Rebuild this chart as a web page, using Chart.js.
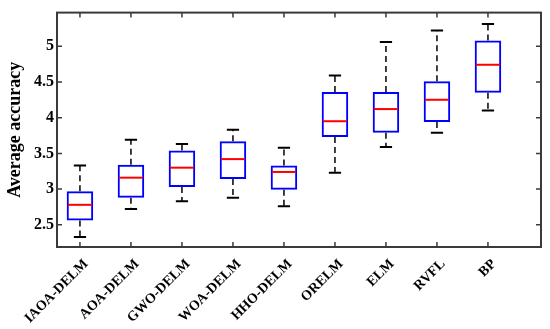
<!DOCTYPE html>
<html>
<head>
<meta charset="utf-8">
<script src="https://cdn.jsdelivr.net/npm/chart.js@4.4.1/dist/chart.umd.min.js"></script>
<style>
  body { margin: 0; background: #fff; }
  #wrap { width: 550px; height: 329px; }
</style>
</head>
<body>
<div id="wrap"><canvas id="chart" width="550" height="329"></canvas></div>
<script>
// data
const categories = ['IAOA-DELM', 'AOA-DELM', 'GWO-DELM', 'WOA-DELM', 'HHO-DELM', 'ORELM', 'ELM', 'RVFL', 'BP'];
const whiskerLow  = [2.33, 2.72, 2.83, 2.88, 2.76, 3.23, 3.59, 3.79, 4.10];
const boxLow      = [2.56, 2.88, 3.03, 3.14, 2.99, 3.73, 3.79, 3.94, 4.35];
const medians     = [2.78, 3.16, 3.30, 3.42, 3.24, 3.95, 4.12, 4.25, 4.74];
const boxHigh     = [2.97, 3.34, 3.54, 3.67, 3.33, 4.36, 4.36, 4.51, 5.08];
const whiskerHigh = [3.33, 3.69, 3.63, 3.83, 3.58, 4.59, 5.06, 5.22, 5.31];
const yTicks = [2.5, 3, 3.5, 4, 4.5, 5];

const serif = "'Liberation Serif', 'Times New Roman', serif";
const frameColor = '#3a3a3a';

// whiskers, caps, medians, frame and inward ticks
const boxExtras = {
    id: 'boxExtras',
    afterDatasetsDraw(chart) {
        const { ctx, chartArea: a, scales: { x, y } } = chart;
        const half = 0.255, capHalf = 0.12;
        ctx.save();

        categories.forEach((c, i) => {
            const px = x.getPixelForValue(i + 1);
            // dashed whiskers
            ctx.strokeStyle = '#000';
            ctx.lineWidth = 1.5;
            ctx.setLineDash([6, 4]);
            ctx.beginPath();
            ctx.moveTo(px, y.getPixelForValue(boxHigh[i]));
            ctx.lineTo(px, y.getPixelForValue(whiskerHigh[i]));
            ctx.moveTo(px, y.getPixelForValue(boxLow[i]));
            ctx.lineTo(px, y.getPixelForValue(whiskerLow[i]));
            ctx.stroke();
            // caps
            ctx.setLineDash([]);
            ctx.lineWidth = 2;
            ctx.beginPath();
            [whiskerHigh[i], whiskerLow[i]].forEach(v => {
                const py = y.getPixelForValue(v);
                ctx.moveTo(x.getPixelForValue(i + 1 - capHalf), py);
                ctx.lineTo(x.getPixelForValue(i + 1 + capHalf), py);
            });
            ctx.stroke();
            // median
            ctx.strokeStyle = '#ff0000';
            ctx.beginPath();
            const my = y.getPixelForValue(medians[i]);
            ctx.moveTo(x.getPixelForValue(i + 1 - half) + 1, my);
            ctx.lineTo(x.getPixelForValue(i + 1 + half) - 1, my);
            ctx.stroke();
        });

        // frame + ticks pointing in
        ctx.strokeStyle = frameColor;
        ctx.lineWidth = 2;
        ctx.strokeRect(a.left, a.top, a.right - a.left, a.bottom - a.top);
        ctx.lineWidth = 1.5;
        ctx.beginPath();
        const tl = 5;
        categories.forEach((c, i) => {
            const px = x.getPixelForValue(i + 1);
            ctx.moveTo(px, a.bottom); ctx.lineTo(px, a.bottom - tl);
            ctx.moveTo(px, a.top); ctx.lineTo(px, a.top + tl);
        });
        yTicks.forEach(v => {
            const py = y.getPixelForValue(v);
            ctx.moveTo(a.left, py); ctx.lineTo(a.left + tl, py);
            ctx.moveTo(a.right, py); ctx.lineTo(a.right - tl, py);
        });
        ctx.stroke();
        ctx.restore();
    }
};

new Chart(document.getElementById('chart'), {
    type: 'bar',
    data: {
        datasets: [{
            data: categories.map((c, i) => ({ x: i + 1, y: [boxLow[i], boxHigh[i]] })),
            backgroundColor: 'rgba(0,0,0,0)',
            borderColor: '#0000ff',
            borderWidth: 2,
            borderSkipped: false,
            categoryPercentage: 1,
            barPercentage: 0.52
        }]
    },
    options: {
        responsive: false,
        devicePixelRatio: 1,
        animation: false,
        layout: { padding: { top: 7, right: 9, left: 0, bottom: 0 } },
        plugins: { legend: { display: false }, tooltip: { enabled: false } },
        scales: {
            x: {
                type: 'linear',
                offset: false,
                min: 0.55,
                max: 10.04,
                grid: { display: false, drawTicks: false },
                border: { display: false },
                afterBuildTicks: s => { s.ticks = categories.map((c, i) => ({ value: i + 1 })); },
                afterFit: s => { s.height = 82; },
                ticks: {
                    autoSkip: false,
                    minRotation: 45,
                    maxRotation: 45,
                    padding: 9,
                    labelOffset: 6,
                    color: '#000',
                    font: { family: serif, size: 14, weight: 'bold' },
                    callback: v => categories[v - 1]
                }
            },
            y: {
                min: 2.19,
                max: 5.47,
                grid: { display: false, drawTicks: false },
                border: { display: false },
                afterBuildTicks: s => { s.ticks = yTicks.map(v => ({ value: v })); },
                afterFit: s => { s.width = 57; },
                ticks: {
                    padding: 3,
                    color: '#000',
                    font: { family: serif, size: 16, weight: 'bold' },
                    callback: v => String(v)
                },
                title: {
                    display: true,
                    text: 'Average accuracy',
                    color: '#000',
                    padding: { top: 5, bottom: 0 },
                    font: { family: serif, size: 18, weight: 'bold' }
                }
            }
        }
    },
    plugins: [boxExtras]
});
</script>
</body>
</html>
